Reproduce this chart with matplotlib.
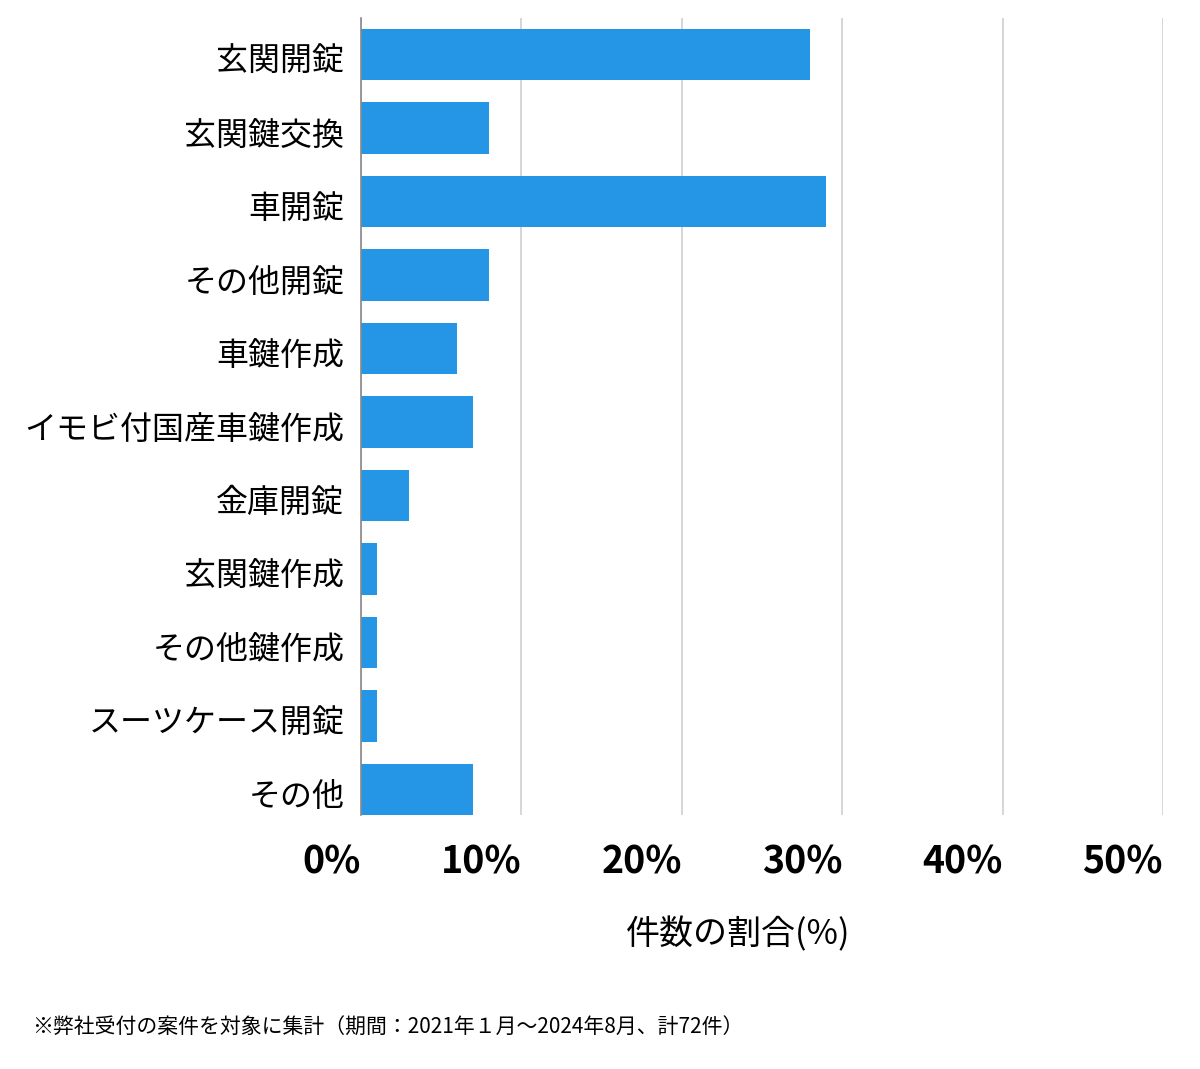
import matplotlib.pyplot as plt
import matplotlib.transforms as mtransforms

plt.rcParams['font.family'] = ['Noto Sans CJK JP', 'DejaVu Sans']

# data (percent of 72 cases)
categories = ['玄関開錠', '玄関鍵交換', '車開錠', 'その他開錠', '車鍵作成',
              'イモビ付国産車鍵作成', '金庫開錠', '玄関鍵作成', 'その他鍵作成',
              'スーツケース開錠', 'その他']
values = [28, 8, 29, 8, 6, 7, 3, 1, 1, 1, 7]
xticks = [0, 10, 20, 30, 40, 50]
xlabel = '件数の割合(%)'
note = '※弊社受付の案件を対象に集計（期間：2021年１月〜2024年8月、計72件）'

BAR_COLOR = '#2595e6'

fig = plt.figure(figsize=(12, 10.69), dpi=100)
ax = fig.add_axes([361 / 1200, 1 - 815 / 1069, (1163 - 361) / 1200, (815 - 18) / 1069])

ypos = list(range(len(categories)))
ax.barh(ypos, values, height=0.7, color=BAR_COLOR, zorder=3)

ax.set_xlim(0, 50)
ax.set_ylim(10.35, -0.5)

ax.set_yticks(ypos)
ax.set_yticklabels(categories, fontsize=23)
ax.tick_params(axis='y', length=0, pad=12)
# nudge labels down a bit to sit like the reference
shift = mtransforms.ScaledTranslation(0, -4 / 100, fig.dpi_scale_trans)
for lbl in ax.get_yticklabels():
    lbl.set_transform(lbl.get_transform() + shift)

ax.set_xticks(xticks)
ax.set_xticklabels([f'{t}%' for t in xticks], fontsize=27, fontweight='bold', ha='right')
ax.tick_params(axis='x', length=0, pad=20)

ax.grid(axis='x', color='#d0d0d0', linewidth=1.2, zorder=0)
for s in ['top', 'right', 'bottom']:
    ax.spines[s].set_visible(False)
ax.spines['left'].set_color('#888888')
ax.spines['left'].set_linewidth(1.2)
ax.spines['left'].set_zorder(4)

fig.text(738 / 1200, 1 - 935 / 1069, xlabel, fontsize=24.5, ha='center', va='center')
fig.text(32 / 1200, 1 - 1028 / 1069, note, fontsize=15, ha='left', va='center')

fig.savefig('out.png', dpi=100)
